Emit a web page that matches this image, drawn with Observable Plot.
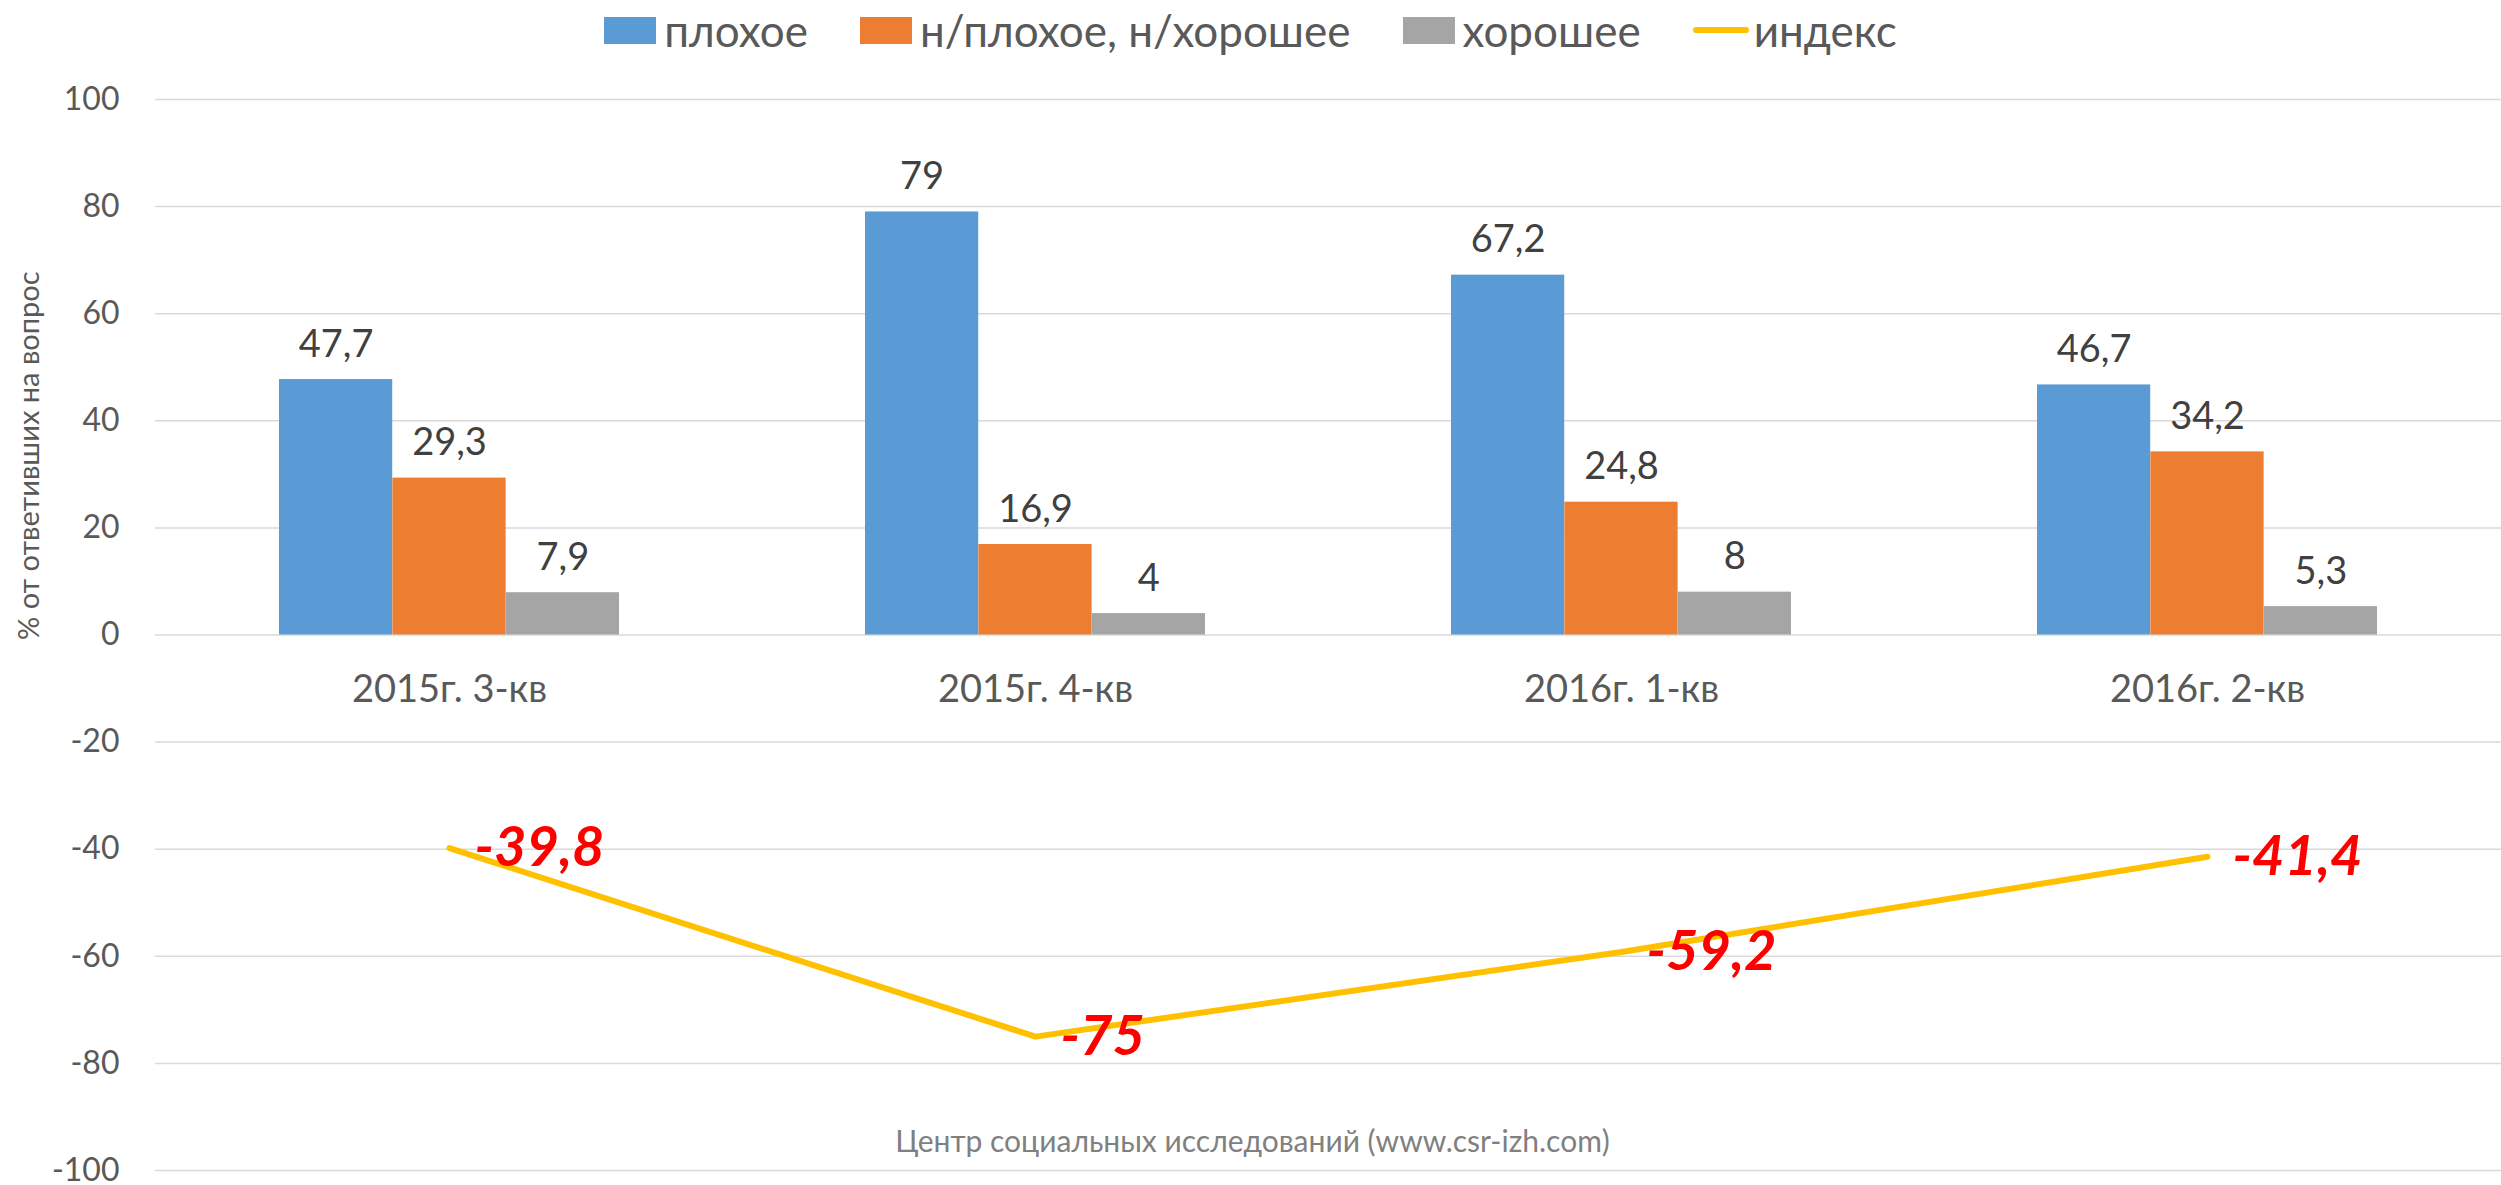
<!DOCTYPE html>
<html>
<head>
<meta charset="utf-8">
<script src="https://cdn.jsdelivr.net/npm/d3@7"></script>
<script src="https://cdn.jsdelivr.net/npm/@observablehq/plot@0.6"></script>
<style>
  html, body { margin: 0; padding: 0; background: #fff; }
  body { width: 2501px; height: 1185px; overflow: hidden; font-family: Lato, "Open Sans", sans-serif; }
  #legend { height: 60px; display: flex; justify-content: center; align-items: center; gap: 0; color: #595959; font-size: 44px; }
  .item { display: flex; align-items: center; margin: 0 26px; }
  .sw { width: 52px; height: 27px; margin-right: 8px; }
  .ln { width: 56px; height: 6px; border-radius: 3px; margin-right: 5px; }
  #chart svg { display: block; }
</style>
</head>
<body>
<div id="legend"></div>
<div id="chart"></div>
<script>
// ---- data ----
const categories = ["2015г. 3-кв", "2015г. 4-кв", "2016г. 1-кв", "2016г. 2-кв"];
const seriesNames = ["плохое", "н/плохое, н/хорошее", "хорошее"];
const indexName = "индекс";
const bad = [47.7, 79, 67.2, 46.7];
const neutral = [29.3, 16.9, 24.8, 34.2];
const good = [7.9, 4, 8, 5.3];
const indexValues = [-39.8, -75, -59.2, -41.4];
const yTicks = [-100, -80, -60, -40, -20, 0, 20, 40, 60, 80, 100];
const yLabel = "% от ответивших на вопрос";
const caption = "Центр социальных исследований (www.csr-izh.com)";

// ---- styles ----
const colors = ["#5B9BD5", "#ED7D31", "#A5A5A5"];
const lineColor = "#FFC000";
const W = 2501, H = 1125;
const marginLeft = 155, marginRight = 0, marginTop = 39, marginBottom = 15;
const padIn = 0.42, padOut = 0.21;
const step = (W - marginLeft - marginRight) / (categories.length - padIn + 2 * padOut);
const bandwidth = step * (1 - padIn);
const bw = bandwidth / 3;

const fmt = v => String(v).replace(".", ",");

// legend
const legend = document.getElementById("legend");
seriesNames.forEach((name, i) => {
  const it = document.createElement("div");
  it.className = "item";
  it.innerHTML = `<div class="sw" style="background:${colors[i]}"></div><span>${name}</span>`;
  legend.appendChild(it);
});
{
  const it = document.createElement("div");
  it.className = "item";
  it.innerHTML = `<div class="ln" style="background:${lineColor}"></div><span>${indexName}</span>`;
  legend.appendChild(it);
}

const seriesValues = [bad, neutral, good];
const barMarks = [];
seriesValues.forEach((vals, i) => {
  const rows = categories.map((c, j) => ({category: c, value: vals[j]}));
  barMarks.push(Plot.barY(rows, {
    x: "category", y: "value", fill: colors[i],
    insetLeft: i * bw, insetRight: (2 - i) * bw
  }));
  barMarks.push(Plot.text(rows, {
    x: "category", y: "value", text: d => fmt(d.value),
    dx: (i - 1) * bw, dy: -23, lineAnchor: "bottom",
    fill: "#404040", fontSize: 38
  }));
});

const indexRows = categories.map((c, j) => ({category: c, value: indexValues[j]}));

const chart = Plot.plot({
  width: W, height: H,
  marginLeft, marginRight, marginTop, marginBottom,
  style: {fontFamily: "Lato, 'Open Sans', sans-serif", background: "#fff"},
  x: {type: "band", domain: categories, paddingInner: padIn, paddingOuter: padOut, axis: null},
  y: {domain: [-100, 100], axis: null},
  marks: [
    Plot.gridY(yTicks, {stroke: "#D9D9D9", strokeOpacity: 1, strokeWidth: 1.5}),
    Plot.axisY(yTicks, {tickSize: 0, tickPadding: 36, tickFormat: d => String(d), fontSize: 32, color: "#595959", label: null}),
    ...barMarks,
    Plot.text(categories, {x: d => d, y: () => 0, dy: 55, fontSize: 38, fill: "#595959"}),
    Plot.line(indexRows, {x: "category", y: "value", stroke: lineColor, strokeWidth: 6, strokeLinecap: "round", strokeLinejoin: "round"}),
    Plot.text(indexRows, {x: "category", y: "value", text: d => fmt(d.value), fill: "#FF0000",
      fontWeight: "bold", fontStyle: "italic", fontSize: 56, textAnchor: "start", dx: 25}),
    Plot.text([yLabel], {frameAnchor: "left", rotate: -90, dx: -126, dy: 5, fontSize: 29, fill: "#595959"}),
    Plot.text([caption], {frameAnchor: "bottom", lineAnchor: "middle", dx: -76, dy: -28, fontSize: 30, fill: "#808080"})
  ]
});
document.getElementById("chart").appendChild(chart);
</script>
</body>
</html>
